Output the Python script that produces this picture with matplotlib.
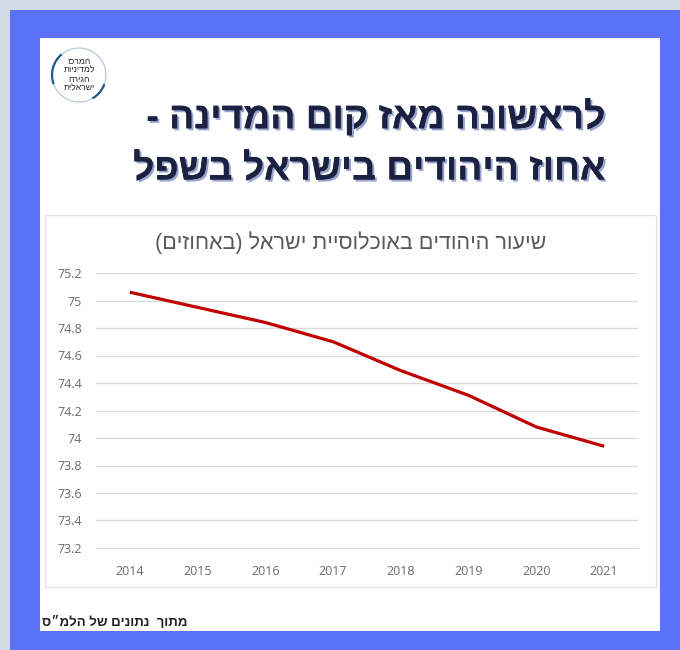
import matplotlib
matplotlib.use("Agg")
import matplotlib.pyplot as plt
import matplotlib.patheffects as pe
from matplotlib.patches import Rectangle, Arc

years = ["2014", "2015", "2016", "2017", "2018", "2019", "2020", "2021"]
jews_pct = [75.06, 74.95, 74.84, 74.70, 74.49, 74.31, 74.08, 73.94]
y_ticks = [73.2, 73.4, 73.6, 73.8, 74.0, 74.2, 74.4, 74.6, 74.8, 75.0, 75.2]

title_1 = "לראשונה מאז קום המדינה -"
title_2 = "אחוז היהודים בישראל בשפל"
chart_title = "שיעור היהודים באוכלוסיית ישראל (באחוזים)"
footer = "מתוך  נתונים של הלמ״ס"
logo_lines = ["המרכז", "למדיניות", "הגירה", "ישראלית"]

FONT = ["Liberation Sans", "DejaVu Sans"]
W, H = 680, 650


def rtl(s):
    # matplotlib has no bidi, so flip the string to visual order
    return s[::-1].translate(str.maketrans("()", ")("))


def box(x0, y0, x1, y1):
    # pixel box (top-left origin) -> figure fractions
    return (x0 / W, 1 - y1 / H), (x1 - x0) / W, (y1 - y0) / H


fig = plt.figure(figsize=(6.8, 6.5), dpi=100)
fig.patch.set_facecolor("#D3DCE6")

for (xy, w, h), fc, ec in [
    (box(10, 10, 680, 650), "#5A71F8", "none"),
    (box(40, 38, 660, 631), "#FFFFFF", "none"),
    (box(45, 215, 656, 587), "#FFFFFF", "#E3E3E3"),
]:
    fig.patches.append(Rectangle(xy, w, h, transform=fig.transFigure,
                                 facecolor=fc, edgecolor=ec, lw=1, zorder=-5))

# logo (circle of arcs with the institute name)
lg = fig.add_axes([50 / W, 1 - 104 / H, 58 / W, 58 / H])
lg.set_xlim(-1, 1)
lg.set_ylim(-1, 1)
lg.set_aspect("equal")
lg.axis("off")
d = 1.86
lg.add_patch(Arc((0, 0), d, d, theta1=0, theta2=360, color="#B8C6DC", lw=0.9))
lg.add_patch(Arc((0, 0), d, d, theta1=130, theta2=200, color="#1E5A8A", lw=1.6))
lg.add_patch(Arc((0, 0), d, d, theta1=300, theta2=340, color="#1E5A8A", lw=1.6))
for t, yy in zip(logo_lines, [0.45, 0.16, -0.14, -0.43]):
    lg.text(0, yy, rtl(t), ha="center", va="center",
            fontsize=6.2, color="#2A2A2A", family=FONT)

# headline
shadow = [pe.withSimplePatchShadow(offset=(1.5, -1.5), shadow_rgbFace="#6F7FB8", alpha=0.7),
          pe.Normal()]
for t, y in [(title_1, 118), (title_2, 170)]:
    fig.text(605 / W, 1 - y / H, rtl(t), ha="right", va="center", fontsize=26.8,
             fontweight="bold", color="#1B2140", family=FONT, path_effects=shadow)

fig.text(351 / W, 1 - 243 / H, rtl(chart_title), ha="center", va="center",
         fontsize=15.5, color="#595959", family=FONT)

fig.text(42 / W, 1 - 622 / H, rtl(footer), ha="left", va="center",
         fontsize=9.5, fontweight="bold", color="#222222", family=FONT)

ax = fig.add_axes([96 / W, 1 - 548 / H, 542 / W, 275 / H])
ax.set_facecolor("none")
x = list(range(len(years)))
ax.plot(x, jews_pct, color="#C00000", lw=2.3, solid_capstyle="butt")
ax.set_xlim(-0.5, len(years) - 0.5)
ax.set_ylim(73.2, 75.2)
ax.set_xticks(x, years)
ax.set_yticks(y_ticks, [f"{v:g}" for v in y_ticks])
ax.yaxis.grid(True, color="#D9D9D9", lw=0.9)
ax.set_axisbelow(True)
for s in ["top", "right", "left"]:
    ax.spines[s].set_visible(False)
ax.spines["bottom"].set_color("#D9D9D9")
ax.tick_params(length=0, colors="#6B6B6B", labelsize=9)
ax.tick_params(axis="y", pad=10)
ax.tick_params(axis="x", pad=12)
for lab in ax.get_xticklabels() + ax.get_yticklabels():
    lab.set_family(["Open Sans", "DejaVu Sans"])

fig.savefig("out.png", dpi=100)
